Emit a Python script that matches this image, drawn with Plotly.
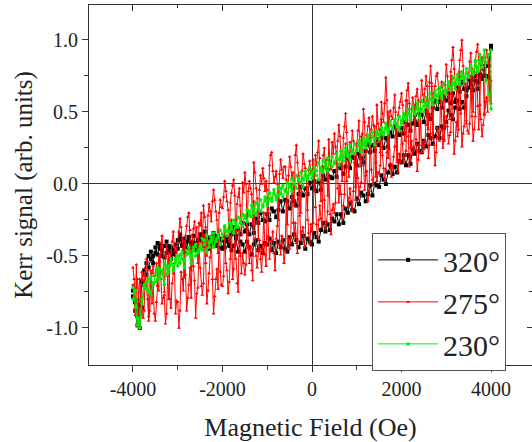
import plotly.graph_objects as go

# Magnetic field grids (Oe)
FIELD = list(range(-4000, 4001, 50))        # 320 deg and 230 deg loops
FIELD_FINE = list(range(-4000, 4001, 25))   # 275 deg loop

# 320 deg : increasing-field branch and decreasing-field branch (both listed in increasing field order)
BLACK_UP = [
    -0.78, -0.88, -0.98, -1.00, -0.86, -0.70, -0.63, -0.58, -0.52, -0.55,
    -0.44, -0.49, -0.42, -0.46, -0.51, -0.48, -0.43, -0.52, -0.45, -0.47,
    -0.45, -0.38, -0.42, -0.47, -0.40, -0.37, -0.44, -0.41, -0.46, -0.39,
    -0.39, -0.35, -0.43, -0.38, -0.45, -0.37, -0.41, -0.36, -0.42, -0.44,
    -0.39, -0.44, -0.37, -0.41, -0.46, -0.43, -0.38, -0.47, -0.40, -0.42,
    -0.47, -0.40, -0.44, -0.49, -0.42, -0.39, -0.46, -0.43, -0.48, -0.41,
    -0.42, -0.38, -0.46, -0.41, -0.48, -0.40, -0.44, -0.39, -0.45, -0.47,
    -0.37, -0.42, -0.35, -0.39, -0.44, -0.41, -0.36, -0.45, -0.38, -0.40,
    -0.42, -0.34, -0.37, -0.40, -0.32, -0.27, -0.33, -0.28, -0.32, -0.24,
    -0.26, -0.21, -0.28, -0.21, -0.27, -0.17, -0.20, -0.13, -0.18, -0.19,
    -0.10, -0.14, -0.06, -0.08, -0.12, -0.07, -0.01, -0.08, 0.00, -0.01,
    -0.02, 0.06, 0.03, 0.00, 0.08, 0.13, 0.07, 0.12, 0.08, 0.16,
    0.15, 0.20, 0.13, 0.20, 0.14, 0.24, 0.21, 0.28, 0.23, 0.22,
    0.30, 0.26, 0.34, 0.32, 0.28, 0.33, 0.39, 0.32, 0.40, 0.39,
    0.43, 0.51, 0.48, 0.45, 0.53, 0.58, 0.52, 0.57, 0.53, 0.61,
    0.67, 0.72, 0.65, 0.72, 0.66, 0.76, 0.73, 0.80, 0.75, 0.74,
    0.94]
BLACK_DOWN = [
    -0.74, -0.82, -0.92, -0.84, -0.68, -0.60, -0.55, -0.50, -0.47, -0.50,
    -0.48, -0.41, -0.45, -0.50, -0.43, -0.40, -0.47, -0.44, -0.49, -0.42,
    -0.39, -0.35, -0.43, -0.38, -0.45, -0.37, -0.41, -0.36, -0.42, -0.44,
    -0.35, -0.40, -0.33, -0.37, -0.42, -0.39, -0.34, -0.43, -0.36, -0.38,
    -0.45, -0.37, -0.40, -0.43, -0.35, -0.30, -0.36, -0.31, -0.35, -0.27,
    -0.33, -0.28, -0.35, -0.28, -0.34, -0.24, -0.27, -0.20, -0.25, -0.26,
    -0.21, -0.25, -0.17, -0.19, -0.23, -0.18, -0.12, -0.19, -0.11, -0.12,
    -0.17, -0.09, -0.12, -0.15, -0.07, -0.02, -0.08, -0.03, -0.07, 0.01,
    -0.03, 0.02, -0.05, 0.02, -0.04, 0.06, 0.03, 0.10, 0.05, 0.04,
    0.09, 0.05, 0.13, 0.11, 0.07, 0.12, 0.18, 0.11, 0.19, 0.18,
    0.13, 0.21, 0.18, 0.15, 0.23, 0.28, 0.22, 0.27, 0.23, 0.31,
    0.27, 0.32, 0.25, 0.32, 0.26, 0.36, 0.33, 0.40, 0.35, 0.34,
    0.39, 0.35, 0.43, 0.41, 0.37, 0.42, 0.48, 0.41, 0.49, 0.48,
    0.43, 0.51, 0.48, 0.45, 0.53, 0.58, 0.52, 0.57, 0.53, 0.61,
    0.58, 0.63, 0.56, 0.63, 0.57, 0.67, 0.64, 0.71, 0.66, 0.65,
    0.73, 0.69, 0.77, 0.75, 0.71, 0.76, 0.82, 0.75, 0.83, 0.82,
    0.96]

# 275 deg (25 Oe steps)
RED_UP = [
    -0.70, -0.78, -0.91, -0.56, -0.99, -0.80, -0.66, -0.74, -0.84, -0.93, -0.88, -0.58, -0.71, -0.80, -0.95, -0.88, -0.60, -0.83, -0.69, -0.90,
    -0.95, -0.82, -0.71, -0.74, -0.50, -0.66, -0.83, -0.79, -0.77, -0.97, -0.90, -0.64, -0.48, -0.80, -0.86, -0.69, -0.62, -0.55, -0.90, -0.81,
    -0.82, -1.00, -0.88, -0.61, -0.66, -0.74, -0.40, -0.63, -0.88, -0.79, -0.70, -0.58, -0.79, -0.45, -0.57, -0.67, -0.93, -0.76, -0.72, -0.42,
    -0.58, -0.71, -0.77, -0.69, -0.35, -0.55, -0.83, -0.74, -0.62, -0.51, -0.38, -0.66, -0.90, -0.78, -0.66, -0.59, -0.73, -0.32, -0.61, -0.70,
    -0.71, -0.64, -0.30, -0.55, -0.60, -0.76, -0.68, -0.52, -0.25, -0.66, -0.59, -0.41, -0.52, -0.69, -0.75, -0.32, -0.50, -0.62, -0.48, -0.55,
    -0.63, -0.56, -0.18, -0.42, -0.55, -0.44, -0.60, -0.67, -0.12, -0.38, -0.50, -0.58, -0.46, -0.39, -0.52, -0.61, -0.43, -0.20, -0.49, -0.57,
    -0.10, -0.36, -0.52, -0.45, -0.39, -0.33, -0.48, -0.60, -0.38, -0.29, -0.05, -0.42, -0.49, -0.36, -0.41, -0.55, -0.47, -0.12, -0.44, -0.38,
    -0.45, -0.38, 0.00, -0.27, -0.36, -0.27, -0.41, -0.48, 0.05, -0.22, -0.39, -0.33, -0.30, -0.44, -0.37, -0.02, -0.25, -0.34, -0.42, -0.28,
    -0.33, -0.27, 0.10, -0.16, -0.28, -0.37, -0.25, -0.15, -0.24, -0.30, 0.12, -0.11, -0.31, -0.26, -0.19, 0.05, -0.21, -0.35, -0.18, -0.14,
    -0.20, -0.13, 0.22, -0.03, -0.13, -0.01, -0.07, -0.24, -0.15, -0.07, 0.28, 0.02, -0.16, -0.10, -0.03, -0.12, -0.19, -0.05, 0.20, -0.11,
    0.12, 0.04, -0.08, -0.02, 0.01, 0.35, 0.13, -0.04, 0.06, 0.09, -0.12, -0.05, 0.32, 0.10, 0.03, -0.01, 0.40, 0.15, 0.02, 0.08,
    0.07, 0.13, 0.45, 0.20, 0.11, 0.02, 0.10, 0.22, 0.50, 0.24, 0.14, 0.05, 0.12, 0.19, 0.26, 0.42, 0.17, 0.08, 0.21, 0.15,
    0.36, 0.28, 0.15, 0.20, 0.23, 0.58, 0.33, 0.12, 0.18, 0.30, 0.20, 0.26, 0.55, 0.31, 0.09, 0.17, 0.27, 0.52, 0.22, 0.29,
    0.24, 0.30, 0.41, 0.58, 0.18, 0.27, 0.35, 0.68, 0.42, 0.27, 0.13, 0.22, 0.39, 0.33, 0.30, 0.62, 0.37, 0.25, 0.31, 0.40,
    0.47, 0.40, 0.28, 0.34, 0.36, 0.75, 0.46, 0.21, 0.30, 0.43, 0.33, 0.38, 0.78, 0.49, 0.26, 0.35, 0.40, 0.70, 0.44, 0.37,
    0.35, 0.42, 0.75, 0.47, 0.30, 0.38, 0.47, 0.82, 0.54, 0.38, 0.55, 0.45, 0.33, 0.41, 0.49, 0.57, 0.60, 0.50, 0.85, 0.58,
    0.72]
RED_DOWN = [
    -0.58, -0.66, -0.79, -0.72, -0.66, -0.80, -0.95, -0.75, -0.61, -0.67, -0.73, -0.64, -0.52, -0.60, -0.92, -0.77, -0.69, -0.62, -0.57, -0.64,
    -0.63, -0.55, -0.70, -0.50, -0.54, -0.41, -0.36, -0.47, -0.75, -0.50, -0.42, -0.58, -0.80, -0.55, -0.48, -0.40, -0.33, -0.44, -0.52, -0.46,
    -0.41, -0.33, -0.24, -0.30, -0.38, -0.45, -0.65, -0.36, -0.29, -0.23, -0.20, -0.32, -0.60, -0.39, -0.31, -0.26, -0.37, -0.30, -0.55, -0.27,
    -0.29, -0.20, -0.45, -0.15, -0.23, -0.30, -0.50, -0.22, -0.14, -0.19, -0.26, -0.12, -0.04, -0.11, -0.19, -0.25, -0.48, -0.20, -0.11, -0.16,
    -0.17, -0.09, 0.02, -0.05, -0.12, -0.18, -0.40, -0.13, -0.06, -0.01, 0.03, -0.08, -0.42, -0.14, -0.09, -0.03, -0.15, -0.35, 0.01, -0.06,
    0.08, 0.00, -0.32, -0.05, 0.02, -0.03, -0.07, -0.28, 0.15, 0.08, -0.03, -0.10, -0.38, -0.04, 0.06, 0.00, 0.11, 0.04, -0.05, 0.02,
    -0.04, -0.20, 0.13, 0.20, 0.22, 0.09, 0.01, 0.05, 0.09, 0.00, -0.25, 0.07, 0.17, 0.10, 0.04, 0.12, 0.12, 0.03, -0.28, 0.06,
    0.19, 0.12, 0.03, 0.08, -0.15, 0.20, 0.27, 0.15, 0.06, 0.01, -0.20, 0.09, 0.21, 0.14, 0.11, 0.05, -0.18, 0.10, 0.16, 0.08,
    0.09, 0.17, -0.05, 0.20, 0.13, 0.22, 0.30, 0.18, -0.12, 0.12, 0.20, 0.25, 0.11, 0.17, -0.08, 0.31, 0.16, 0.10, 0.29, 0.21,
    0.35, 0.26, 0.18, 0.30, 0.41, 0.33, 0.23, 0.02, 0.32, 0.40, 0.49, 0.36, 0.21, 0.05, 0.29, 0.22, 0.37, 0.30, 0.15, -0.02,
    0.28, 0.37, 0.44, 0.12, 0.33, 0.27, 0.52, 0.43, 0.08, 0.34, 0.40, 0.46, 0.30, 0.38, 0.47, 0.41, 0.36, 0.05, 0.55, 0.42,
    0.38, 0.22, 0.57, 0.49, 0.43, 0.56, 0.74, 0.58, 0.18, 0.44, 0.51, 0.47, 0.45, 0.53, 0.62, 0.50, 0.15, 0.48, 0.53, 0.57,
    0.63, 0.55, 0.47, 0.30, 0.58, 0.65, 0.70, 0.56, 0.25, 0.52, 0.60, 0.54, 0.52, 0.61, 0.66, 0.58, 0.22, 0.57, 0.72, 0.62,
    0.57, 0.66, 0.75, 0.68, 0.38, 0.71, 0.82, 0.70, 0.32, 0.63, 0.68, 0.75, 0.77, 0.66, 0.59, 0.67, 0.71, 0.64, 0.30, 0.69,
    0.83, 0.75, 0.66, 0.45, 0.78, 0.86, 0.95, 0.80, 0.70, 0.66, 0.40, 0.75, 0.86, 0.93, 1.00, 0.82, 0.73, 0.69, 0.42, 0.77,
    0.76, 0.85, 0.91, 0.80, 0.50, 0.78, 0.85, 0.92, 0.97, 0.86, 0.55, 0.83, 0.88, 0.80, 0.48, 0.85, 0.93, 0.88, 0.84, 0.78,
    0.56]

# 230 deg
GREEN_UP = [
    -0.72, -0.85, -0.98, -0.93, -0.80, -0.70, -0.73, -0.66, -0.77, -0.69,
    -0.68, -0.66, -0.59, -0.62, -0.70, -0.57, -0.61, -0.55, -0.60, -0.52,
    -0.57, -0.49, -0.52, -0.58, -0.46, -0.48, -0.55, -0.44, -0.50, -0.47,
    -0.43, -0.46, -0.39, -0.47, -0.41, -0.37, -0.44, -0.40, -0.35, -0.42,
    -0.38, -0.32, -0.36, -0.33, -0.28, -0.34, -0.27, -0.30, -0.24, -0.29,
    -0.22, -0.26, -0.19, -0.23, -0.17, -0.21, -0.14, -0.19, -0.16, -0.11,
    -0.15, -0.10, -0.12, -0.06, -0.11, -0.08, -0.03, -0.09, -0.04, -0.07,
    -0.01, -0.05, 0.02, -0.03, 0.04, 0.01, -0.02, 0.06, 0.03, 0.07,
    0.04, 0.09, 0.06, 0.03, 0.11, 0.08, 0.13, 0.09, 0.15, 0.12,
    0.14, 0.18, 0.13, 0.20, 0.16, 0.22, 0.19, 0.17, 0.24, 0.21,
    0.23, 0.27, 0.22, 0.29, 0.25, 0.31, 0.28, 0.33, 0.27, 0.35,
    0.31, 0.36, 0.34, 0.39, 0.35, 0.41, 0.38, 0.43, 0.40, 0.37,
    0.42, 0.47, 0.44, 0.49, 0.45, 0.51, 0.48, 0.53, 0.46, 0.52,
    0.50, 0.56, 0.53, 0.59, 0.55, 0.62, 0.57, 0.63, 0.60, 0.65,
    0.62, 0.68, 0.65, 0.70, 0.66, 0.73, 0.69, 0.75, 0.71, 0.77,
    0.74, 0.79, 0.76, 0.82, 0.78, 0.85, 0.81, 0.88, 0.84, 0.90,
    0.93]
GREEN_DOWN = [
    -0.80, -0.74, -0.93, -1.00, -0.83, -0.72, -0.68, -0.75, -0.64, -0.70,
    -0.63, -0.58, -0.66, -0.60, -0.55, -0.63, -0.57, -0.52, -0.59, -0.54,
    -0.50, -0.55, -0.47, -0.53, -0.49, -0.44, -0.51, -0.46, -0.42, -0.48,
    -0.45, -0.38, -0.42, -0.36, -0.44, -0.39, -0.34, -0.40, -0.37, -0.32,
    -0.35, -0.29, -0.33, -0.27, -0.31, -0.25, -0.30, -0.23, -0.27, -0.21,
    -0.24, -0.18, -0.22, -0.15, -0.20, -0.13, -0.17, -0.11, -0.15, -0.09,
    -0.12, -0.06, -0.10, -0.04, -0.09, -0.02, -0.07, -0.01, -0.05, 0.01,
    -0.02, 0.04, 0.00, 0.06, 0.02, 0.08, 0.03, 0.09, 0.05, 0.11,
    0.07, 0.12, 0.09, 0.15, 0.10, 0.16, 0.12, 0.18, 0.14, 0.19,
    0.15, 0.21, 0.17, 0.23, 0.19, 0.25, 0.20, 0.27, 0.22, 0.28,
    0.24, 0.30, 0.26, 0.32, 0.28, 0.34, 0.29, 0.36, 0.31, 0.37,
    0.34, 0.39, 0.36, 0.42, 0.37, 0.44, 0.39, 0.45, 0.41, 0.47,
    0.44, 0.49, 0.46, 0.52, 0.47, 0.54, 0.49, 0.56, 0.51, 0.58,
    0.54, 0.60, 0.56, 0.63, 0.58, 0.65, 0.61, 0.67, 0.63, 0.70,
    0.65, 0.71, 0.67, 0.74, 0.69, 0.76, 0.71, 0.78, 0.73, 0.80,
    0.75, 0.82, 0.77, 0.86, 0.79, 0.90, 0.81, 0.93, 0.72, 0.62,
    0.52]

SERIES = [
    ("320°", FIELD, BLACK_UP, BLACK_DOWN, "#000000", "square", 4),
    ("275°", FIELD_FINE, RED_UP, RED_DOWN, "#ff0000", "triangle-up", 3.5),
    ("230°", FIELD, GREEN_UP, GREEN_DOWN, "#00ee00", "circle", 3.5),
]

X_TICKS = [-4000, -2000, 0, 2000, 4000]
X_TICK_TEXT = ["-4000", "-2000", "0", "2000", "4000"]
X_MINOR = [-3000, -1000, 1000, 3000]
Y_TICKS = [-1.0, -0.5, 0.0, 0.5, 1.0]
Y_TICK_TEXT = ["-1.0", "-0.5", "0.0", "0.5", "1.0"]
Y_MINOR = [-0.75, -0.25, 0.25, 0.75]

SERIF = "Liberation Serif"
INK = "#222"
AX = "#333"

fig = go.Figure()
for name, field, up, down, color, sym, msize in SERIES:
    xs = field + field[::-1]
    ys = up + down[::-1]
    fig.add_trace(go.Scatter(
        x=xs, y=ys, mode="lines+markers", name=name,
        line=dict(color=color, width=1),
        marker=dict(color=color, size=msize, symbol=sym),
    ))

# empty traces so the mirrored top / right axes (inward ticks) are drawn
fig.add_trace(go.Scatter(x=[], y=[], xaxis="x2", yaxis="y", showlegend=False, hoverinfo="skip"))
fig.add_trace(go.Scatter(x=[], y=[], xaxis="x", yaxis="y2", showlegend=False, hoverinfo="skip"))

XR = [-4983, 4916]
YR = [-1.257, 1.243]

fig.update_layout(
    width=532, height=442,
    margin=dict(l=89, r=0, t=5, b=77),
    paper_bgcolor="white", plot_bgcolor="white",
    font=dict(family=SERIF, color=INK),
    showlegend=True,
    legend=dict(
        x=0.639, y=0.367, xanchor="left", yanchor="top",
        bordercolor="#555", borderwidth=1, bgcolor="white",
        font=dict(family=SERIF, size=30, color=INK),
        itemwidth=60, tracegroupgap=0,
    ),
    xaxis=dict(
        range=XR, showgrid=False, zeroline=True, zerolinecolor=AX, zerolinewidth=1,
        showline=True, linecolor=AX, linewidth=1.2, mirror=True,
        ticks="outside", ticklen=6, tickwidth=1.2, tickcolor=AX,
        tickvals=X_TICKS, ticktext=X_TICK_TEXT,
        tickfont=dict(family=SERIF, size=20, color=INK),
        minor=dict(tickvals=X_MINOR, ticklen=4, tickwidth=1.2, tickcolor=AX, ticks="outside"),
        title=dict(text="Magnetic Field (Oe)", font=dict(family=SERIF, size=26, color=INK), standoff=18),
    ),
    yaxis=dict(
        range=YR, showgrid=False, zeroline=True, zerolinecolor=AX, zerolinewidth=1,
        showline=True, linecolor=AX, linewidth=1.2, mirror=False,
        ticks="outside", ticklen=6, tickwidth=1.2, tickcolor=AX,
        tickvals=Y_TICKS, ticktext=Y_TICK_TEXT,
        tickfont=dict(family=SERIF, size=20, color=INK),
        minor=dict(tickvals=Y_MINOR, ticklen=4, tickwidth=1.2, tickcolor=AX, ticks="outside"),
        title=dict(text="Kerr signal (arb. units)", font=dict(family=SERIF, size=25, color=INK), standoff=6),
    ),
    xaxis2=dict(
        range=XR, overlaying="x", side="top", anchor="y", showgrid=False, zeroline=False,
        showline=False, showticklabels=False,
        ticks="inside", ticklen=6, tickwidth=1.2, tickcolor=AX,
        tickvals=X_TICKS,
        minor=dict(tickvals=X_MINOR, ticklen=3, tickwidth=1.2, tickcolor=AX, ticks="inside"),
    ),
    yaxis2=dict(
        range=YR, overlaying="y", side="right", anchor="x", showgrid=False, zeroline=False,
        showline=False, showticklabels=False,
        ticks="inside", ticklen=5, tickwidth=1.2, tickcolor=AX,
        tickvals=Y_TICKS,
        minor=dict(tickvals=Y_MINOR, ticklen=3, tickwidth=1.2, tickcolor=AX, ticks="inside"),
    ),
)

fig.write_html("out.html")
